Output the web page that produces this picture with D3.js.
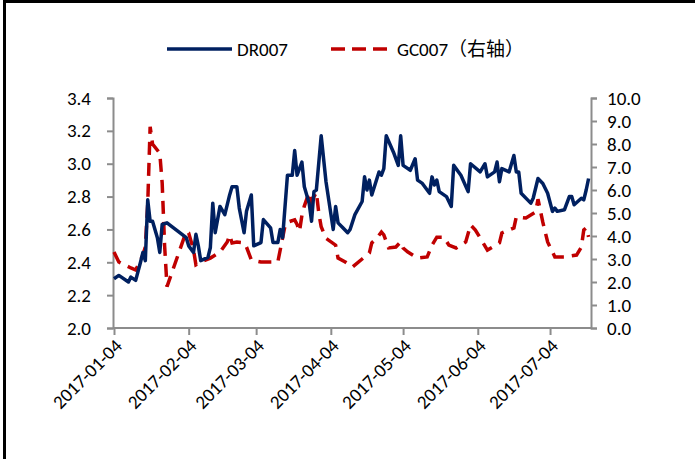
<!DOCTYPE html>
<html lang="zh">
<head>
    <meta charset="UTF-8">
    <script src="https://d3js.org/d3.v7.min.js"></script>
    <style>
        body {
            margin: 0;
            padding: 0;
            background: #ffffff;
        }
        svg text {
            font-family: Calibri, Carlito, 'Liberation Sans', Arial, 'Noto Sans CJK SC', sans-serif;
            fill: #000000;
        }
    </style>
</head>
<body>
    <div id="chart"></div>
    <script>
        // Data
        const drDates = ["2017-01-04","2017-01-06","2017-01-10","2017-01-11","2017-01-13","2017-01-15","2017-01-16","2017-01-17","2017-01-18","2017-01-19","2017-01-20","2017-01-22","2017-01-23","2017-01-24","2017-01-26","2017-02-03","2017-02-04","2017-02-06","2017-02-07","2017-02-08","2017-02-09","2017-02-12","2017-02-13","2017-02-14","2017-02-15","2017-02-17","2017-02-19","2017-02-21","2017-02-22","2017-02-24","2017-02-25","2017-02-27","2017-02-28","2017-03-02","2017-03-03","2017-03-06","2017-03-07","2017-03-10","2017-03-11","2017-03-13","2017-03-14","2017-03-15","2017-03-17","2017-03-19","2017-03-20","2017-03-21","2017-03-23","2017-03-24","2017-03-26","2017-03-27","2017-03-28","2017-03-29","2017-03-31","2017-04-02","2017-04-05","2017-04-06","2017-04-07","2017-04-09","2017-04-11","2017-04-12","2017-04-14","2017-04-17","2017-04-18","2017-04-19","2017-04-20","2017-04-21","2017-04-24","2017-04-25","2017-04-26","2017-04-27","2017-04-30","2017-05-02","2017-05-03","2017-05-04","2017-05-07","2017-05-09","2017-05-10","2017-05-12","2017-05-15","2017-05-16","2017-05-17","2017-05-18","2017-05-19","2017-05-22","2017-05-24","2017-05-25","2017-05-28","2017-05-31","2017-06-01","2017-06-05","2017-06-07","2017-06-08","2017-06-11","2017-06-12","2017-06-13","2017-06-14","2017-06-17","2017-06-19","2017-06-20","2017-06-21","2017-06-22","2017-06-26","2017-06-27","2017-06-29","2017-07-01","2017-07-03","2017-07-05","2017-07-06","2017-07-07","2017-07-10","2017-07-12","2017-07-13","2017-07-14","2017-07-17","2017-07-18","2017-07-19","2017-07-20"];
        const drValues = [2.30,2.32,2.28,2.31,2.29,2.40,2.46,2.41,2.78,2.65,2.65,2.55,2.46,2.63,2.64,2.55,2.50,2.46,2.57,2.50,2.41,2.43,2.49,2.76,2.58,2.74,2.69,2.81,2.86,2.86,2.73,2.58,2.71,2.81,2.50,2.52,2.66,2.61,2.52,2.52,2.60,2.55,2.93,2.93,3.08,2.93,3.01,2.86,2.76,2.65,2.83,2.84,3.17,2.89,2.60,2.74,2.64,2.61,2.58,2.60,2.69,2.77,2.92,2.84,2.90,2.81,2.95,2.93,2.97,3.17,3.07,2.99,3.17,2.99,2.96,3.03,2.90,2.88,2.82,2.92,2.87,2.90,2.83,2.80,2.74,2.99,2.93,2.83,3.00,2.95,3.00,2.92,2.95,3.01,2.89,2.97,2.95,3.05,2.95,2.95,2.82,2.76,2.79,2.91,2.88,2.82,2.71,2.73,2.71,2.72,2.80,2.80,2.75,2.79,2.78,2.84,2.91];

        const gcDates = ["2017-01-04","2017-01-06","2017-01-11","2017-01-13","2017-01-16","2017-01-17","2017-01-18","2017-01-19","2017-01-20","2017-01-23","2017-01-24","2017-01-25","2017-01-26","2017-02-03","2017-02-04","2017-02-06","2017-02-07","2017-02-09","2017-02-13","2017-02-17","2017-02-20","2017-02-21","2017-02-22","2017-02-24","2017-02-27","2017-02-28","2017-03-02","2017-03-06","2017-03-10","2017-03-13","2017-03-16","2017-03-17","2017-03-20","2017-03-21","2017-03-22","2017-03-23","2017-03-24","2017-03-26","2017-03-27","2017-03-29","2017-03-30","2017-03-31","2017-04-02","2017-04-06","2017-04-07","2017-04-10","2017-04-13","2017-04-17","2017-04-20","2017-04-21","2017-04-23","2017-04-25","2017-04-26","2017-04-28","2017-05-01","2017-05-03","2017-05-04","2017-05-06","2017-05-10","2017-05-14","2017-05-16","2017-05-18","2017-05-21","2017-05-23","2017-05-26","2017-05-30","2017-06-01","2017-06-03","2017-06-06","2017-06-08","2017-06-13","2017-06-14","2017-06-19","2017-06-20","2017-06-24","2017-06-28","2017-06-29","2017-07-01","2017-07-03","2017-07-06","2017-07-10","2017-07-15","2017-07-17","2017-07-18","2017-07-19","2017-07-20"];
        const gcValues = [3.30,2.87,2.61,2.52,3.17,3.52,5.4,8.75,8.0,7.6,6.3,3.6,1.8,4.2,4.13,3.4,2.75,2.87,3.04,3.30,3.74,4.04,3.70,3.74,3.70,3.52,2.96,2.87,2.87,2.87,4.45,4.6,4.7,4.5,4.2,4.9,5.3,5.9,5.5,5.9,5.0,4.4,3.9,3.6,3.04,2.87,2.65,3.0,3.26,3.7,3.9,4.17,4.05,3.48,3.52,3.74,3.48,3.3,3.04,3.09,3.6,3.95,3.95,3.6,3.48,3.74,4.48,4.26,3.74,3.39,3.7,4.13,4.35,4.83,4.78,5.04,5.6,4.6,3.74,3.09,3.09,3.17,3.52,4.26,4.35,3.96];

        const xTickDates = ["2017-01-04","2017-02-04","2017-03-04","2017-04-04","2017-05-04","2017-06-04","2017-07-04"];
        const leftTicks = [2.0, 2.2, 2.4, 2.6, 2.8, 3.0, 3.2, 3.4];
        const rightTicks = [0, 1, 2, 3, 4, 5, 6, 7, 8, 9, 10];
        const seriesNames = ["DR007", "GC007（右轴）"];

        // Initial setup
        const width = 695;
        const height = 459;
        const fontSize = "19px";
        const parse = d3.utcParse("%Y-%m-%d");
        const axisColor = "#8c8c8c";
        const blue = "#002060";
        const red = "#c00000";

        const svg = d3.select("#chart").append("svg")
            .attr("width", width)
            .attr("height", height);

        // outer frame bits (left and top edges)
        svg.append("rect").attr("x", 3).attr("y", 0).attr("width", 3).attr("height", height).attr("fill", "#000");
        svg.append("rect").attr("x", 3).attr("y", 0).attr("width", width).attr("height", 3).attr("fill", "#000");

        const x = d3.scaleUtc()
            .domain([parse("2017-01-04"), parse("2017-07-21")])
            .range([114, 591]);

        const yLeft = d3.scaleLinear()
            .domain([2.0, 3.4])
            .range([328, 98]);

        const yRight = d3.scaleLinear()
            .domain([0, 10])
            .range([328, 98]);

        // Axes
        const leftAxis = svg.append("g")
            .attr("transform", "translate(113,0)")
            .call(d3.axisLeft(yLeft).tickValues(leftTicks).tickSize(6).tickPadding(16).tickFormat(d3.format(".1f")));

        const rightAxis = svg.append("g")
            .attr("transform", "translate(591,0)")
            .call(d3.axisRight(yRight).tickValues(rightTicks).tickSize(6).tickPadding(10).tickFormat(d3.format(".1f")));

        const bottomAxis = svg.append("g")
            .attr("transform", "translate(0,328)")
            .call(d3.axisBottom(x).tickValues(xTickDates.map(parse)).tickSize(7).tickFormat(d3.utcFormat("%Y-%m-%d")));

        bottomAxis.select(".domain").attr("d", "M113,0H591");

        [leftAxis, rightAxis, bottomAxis].forEach(g => {
            g.selectAll(".domain").attr("stroke", axisColor).attr("stroke-width", 2);
            g.selectAll(".tick line").attr("stroke", axisColor).attr("stroke-width", 2);
            g.selectAll("text").style("font-size", fontSize).attr("fill", "#000");
        });

        bottomAxis.selectAll("text")
            .attr("text-anchor", "end")
            .attr("transform", "translate(4,6) rotate(-45)")
            .attr("dy", "0.35em")
            .attr("x", -6)
            .attr("y", 6);

        // Lines
        const drData = drDates.map((d, i) => ({date: parse(d), value: drValues[i]}));
        const gcData = gcDates.map((d, i) => ({date: parse(d), value: gcValues[i]}));

        const drLine = d3.line().x(d => x(d.date)).y(d => yLeft(d.value));
        const gcLine = d3.line().x(d => x(d.date)).y(d => yRight(d.value));

        svg.append("path")
            .datum(gcData)
            .attr("fill", "none")
            .attr("stroke", red)
            .attr("stroke-width", 3.5)
            .attr("stroke-dasharray", "13,8")
            .attr("d", gcLine);

        svg.append("path")
            .datum(drData)
            .attr("fill", "none")
            .attr("stroke", blue)
            .attr("stroke-width", 3.5)
            .attr("stroke-linejoin", "round")
            .attr("d", drLine);

        // Legend
        const legend = svg.append("g");
        legend.append("line")
            .attr("x1", 167).attr("x2", 232).attr("y1", 49).attr("y2", 49)
            .attr("stroke", blue).attr("stroke-width", 3.5);
        legend.append("text")
            .attr("x", 237).attr("y", 49).attr("dy", "0.35em")
            .style("font-size", fontSize)
            .text(seriesNames[0]);
        legend.append("line")
            .attr("x1", 331).attr("x2", 387).attr("y1", 49).attr("y2", 49)
            .attr("stroke", red).attr("stroke-width", 3.5)
            .attr("stroke-dasharray", "14,7");
        legend.append("text")
            .attr("x", 397).attr("y", 49).attr("dy", "0.35em")
            .style("font-size", fontSize)
            .text(seriesNames[1]);
    </script>
</body>
</html>
